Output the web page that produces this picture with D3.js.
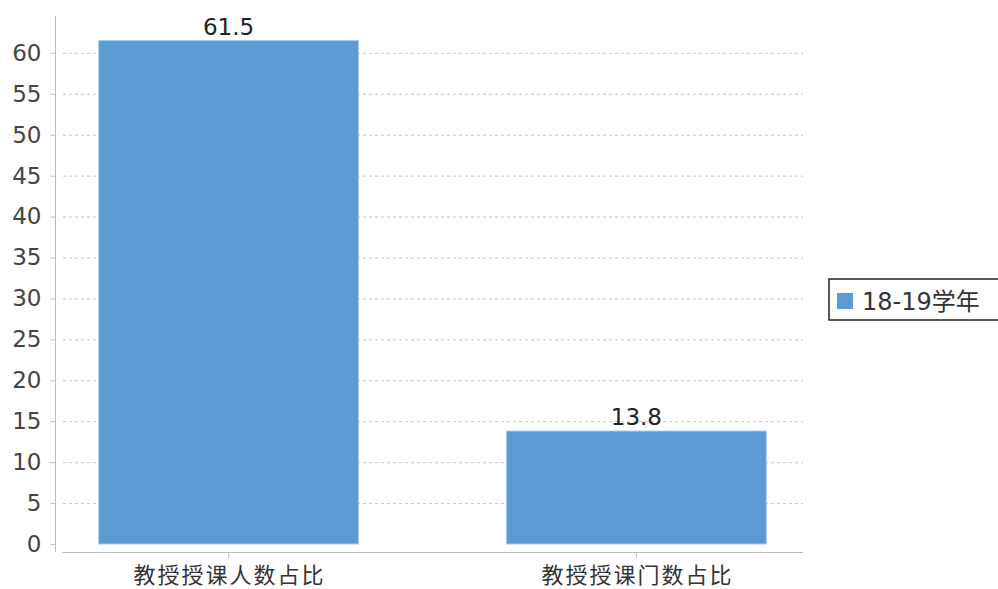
<!DOCTYPE html>
<html><head><meta charset="utf-8">
<script src="https://cdn.jsdelivr.net/npm/d3@7"></script>
<style>body{margin:0;background:#fff;overflow:hidden}svg text{font-family:"DejaVu Sans","Noto Sans CJK SC",sans-serif}</style>
</head><body><svg id="c" width="998" height="589"></svg>
<script>
const categories = ["教授授课人数占比", "教授授课门数占比"];
const values = [61.5, 13.8];
const seriesName = "18-19学年";
const yTicks = [0,5,10,15,20,25,30,35,40,45,50,55,60];
const color = "#5b9bd5";

const svg = d3.select("#c");
const x = d3.scaleBand().domain(categories).range([62, 803]).paddingInner(0.363).paddingOuter(0.09);
const y = d3.scaleLinear().domain([0, 64.5]).range([544, 16]);

// gridlines
svg.append("g").selectAll("line").data(yTicks.filter(d=>d>0)).join("line")
  .attr("x1", 63).attr("x2", 803).attr("y1", d=>y(d)+0.5).attr("y2", d=>y(d)+0.5)
  .attr("stroke", "#c4c4c4").attr("stroke-dasharray", "3,3");

// y axis
const ya = svg.append("g").attr("transform", "translate(55.5,0)")
  .call(d3.axisLeft(y).tickValues(yTicks).tickSize(5).tickPadding(9).tickFormat(d3.format("d")));
ya.select(".domain").attr("stroke", "#bbb").attr("d", `M0,${y(64.5)}V552`);
ya.selectAll(".tick line").attr("stroke", "#bbb");
ya.selectAll(".tick text").attr("font-size", 23).attr("fill", "#444").attr("font-family", "DejaVu Sans");

// bars
svg.append("g").selectAll("rect").data(values).join("rect")
  .attr("x", (d,i)=>x(categories[i])).attr("width", x.bandwidth())
  .attr("y", d=>y(d)).attr("height", d=>y(0)-y(d))
  .attr("fill", color).attr("stroke", "#a9c9ea").attr("stroke-width", 1);

// x axis
const xa = svg.append("g").attr("transform", "translate(0,552.5)")
  .call(d3.axisBottom(x).tickSize(5).tickPadding(10));
xa.select(".domain").attr("stroke", "#bbb").attr("d", "M62,0H803");
xa.selectAll(".tick line").attr("stroke", "#bbb");
xa.selectAll(".tick text").attr("font-size", 22).attr("fill", "#333")
  .attr("font-family", "Noto Sans CJK SC").attr("letter-spacing", 2).attr("dx", 1);

// value labels
svg.append("g").selectAll("text").data(values).join("text")
  .attr("x", (d,i)=>x(categories[i]) + x.bandwidth()/2).attr("y", d=>y(d)-6)
  .attr("text-anchor", "middle").attr("font-size", 23).attr("fill", "#222").text(d=>d);

// legend
const lg = svg.append("g");
lg.append("rect").attr("x", 829).attr("y", 279).attr("width", 190).attr("height", 41)
  .attr("fill", "#fff").attr("stroke", "#222").attr("stroke-width", 1.5);
lg.append("rect").attr("x", 837).attr("y", 293).attr("width", 16).attr("height", 16).attr("fill", color);
lg.append("text").attr("x", 862).attr("y", 310).attr("font-size", 24).attr("fill", "#333").text(seriesName);
</script></body></html>
